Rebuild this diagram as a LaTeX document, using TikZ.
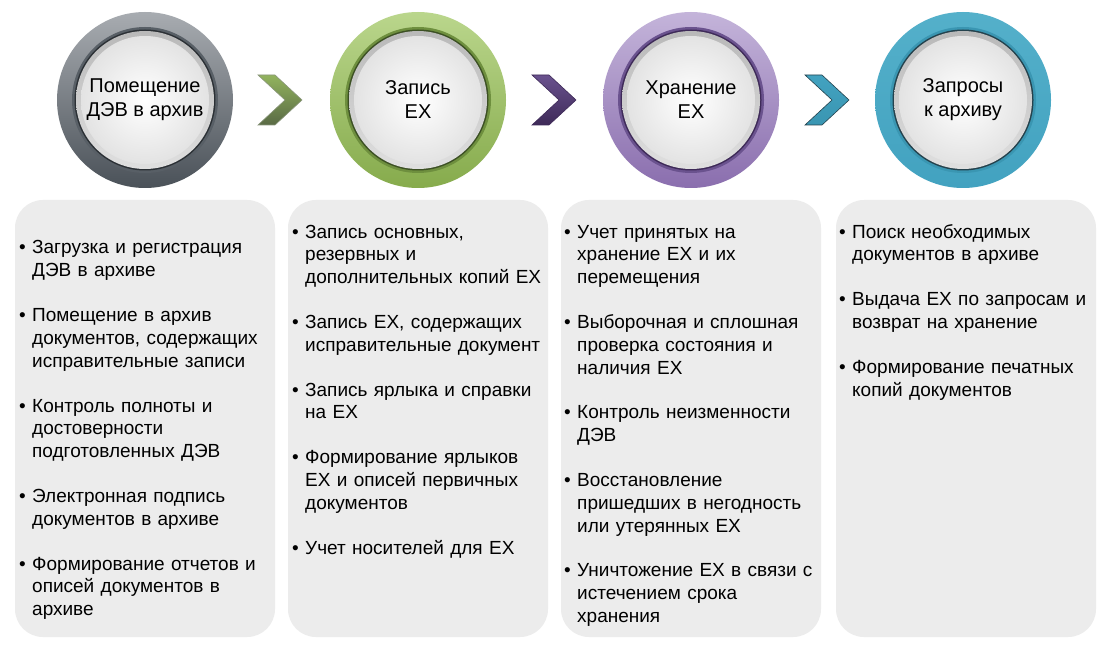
\documentclass[tikz,border=0pt]{standalone}
\usepackage{fontspec}
\setmainfont{Liberation Sans}
\usetikzlibrary{calc}
\usetikzlibrary{positioning}

\definecolor{boxgrey}{RGB}{236,236,236}
\definecolor{greytop}{RGB}{168,172,177}
\definecolor{greybot}{RGB}{74,81,88}
\definecolor{greyband}{RGB}{88,95,102}
\definecolor{greyedge}{RGB}{43,48,53}
\definecolor{greentop}{RGB}{186,214,140}
\definecolor{greenbot}{RGB}{134,171,76}
\definecolor{greenband}{RGB}{110,143,62}
\definecolor{greenedge}{RGB}{60,80,36}
\definecolor{purpletop}{RGB}{196,180,218}
\definecolor{purplebot}{RGB}{138,110,174}
\definecolor{purpleband}{RGB}{106,82,142}
\definecolor{purpleedge}{RGB}{62,42,88}
\definecolor{tealtop}{RGB}{84,176,202}
\definecolor{tealbot}{RGB}{66,162,192}
\definecolor{tealband}{RGB}{58,150,178}
\definecolor{tealedge}{RGB}{36,66,77}

\newcommand{\bul}[1]{\hangindent=13pt\hangafter=1\noindent\makebox[13pt][l]{\textbullet}#1\par}

\tikzset{
  panel/.style={rectangle, rounded corners=28pt, fill=boxgrey, minimum width=260pt, minimum height=437pt, inner sep=0pt},
  list/.style={anchor=base west, text width=262pt, align=left, inner sep=0pt, font=\fontsize{19}{22.8}\selectfont},
  title/.style={align=center, inner sep=0pt, font=\fontsize{20}{24}\selectfont},
  chev/.style={line join=miter, line width=0.6pt}
}

\begin{document}
\begin{tikzpicture}[x=1pt,y=-1pt]
  \useasboundingbox (0,0) rectangle (1115,652);
  \fill[white] (0,0) rectangle (1115,652);

  % rings
  \foreach \cx/\cl in {145/grey, 418/green, 691/purple, 963/teal} {
    \shade[top color=\cl top, bottom color=\cl bot] (\cx,100) circle (88pt);
    \fill[\cl band] (\cx,100) circle (73pt);
    \fill[\cl edge] (\cx,100) circle (70.5pt);
    \shade[top color=gray!55, bottom color=gray!25] (\cx,100) circle (69pt);
    \shade[inner color=white, outer color=gray!22] (\cx,100) circle (64pt);
  }

  \node[title] (stageA) at (145,100) {Помещение\\ДЭВ в архив};
  \node[title] (stageB) at (418,100) {Запись\\ЕХ};
  \node[title] (stageC) at (691,100) {Хранение\\ЕХ};
  \node[title] (stageD) at (963,100) {Запросы\\к архиву};

  % chevrons
  \draw[chev, top color=greenbot!90!white, bottom color=greenedge!85, draw=greenedge!60] (258,75) -- ++(17,0) -- ++(27,25) -- ++(-27,25) -- ++(-17,0) -- ++(27,-25) -- cycle;
  \draw[chev, top color=purpleband, bottom color=purpleedge, draw=purpleedge] (532,75) -- ++(17,0) -- ++(27,25) -- ++(-27,25) -- ++(-17,0) -- ++(27,-25) -- cycle;
  \draw[chev, top color=tealbot, bottom color=tealband, draw=tealedge] (805,75) -- ++(17,0) -- ++(27,25) -- ++(-27,25) -- ++(-17,0) -- ++(27,-25) -- cycle;

  % panels
  \node[panel] (boxA) at (145,418.5) {};
  \node[panel] (boxB) at (418,418.5) {};
  \node[panel] (boxC) at (691,418.5) {};
  \node[panel] (boxD) at (966,418.5) {};

  \node[list] (listA) at (19,254) {\setlength{\parskip}{22pt}%
    \bul{Загрузка и регистрация\newline ДЭВ в архиве}
    \bul{Помещение в архив\newline документов, содержащих\newline исправительные записи}
    \bul{Контроль полноты и\newline достоверности\newline подготовленных ДЭВ}
    \bul{Электронная подпись\newline документов в архиве}
    \bul{Формирование отчетов и\newline описей документов в\newline архиве}};

  \node[list] (listB) at (292,238) {\setlength{\parskip}{22pt}%
    \bul{Запись основных,\newline резервных и\newline дополнительных копий ЕХ}
    \bul{Запись ЕХ, содержащих\newline исправительные документ}
    \bul{Запись ярлыка и справки\newline на ЕХ}
    \bul{Формирование ярлыков\newline ЕХ и описей первичных\newline документов}
    \bul{Учет носителей для ЕХ}};

  \node[list] (listC) at (564,238) {\setlength{\parskip}{22pt}%
    \bul{Учет принятых на\newline хранение ЕХ и их\newline перемещения}
    \bul{Выборочная и сплошная\newline проверка состояния и\newline наличия ЕХ}
    \bul{Контроль неизменности\newline ДЭВ}
    \bul{Восстановление\newline пришедших в негодность\newline или утерянных ЕХ}
    \bul{Уничтожение ЕХ в связи с\newline истечением срока\newline хранения}};

  \node[list] (listD) at (839,238) {\setlength{\parskip}{22pt}%
    \bul{Поиск необходимых\newline документов в архиве}
    \bul{Выдача ЕХ по запросам и\newline возврат на хранение}
    \bul{Формирование печатных\newline копий документов}};
\end{tikzpicture}
\end{document}
